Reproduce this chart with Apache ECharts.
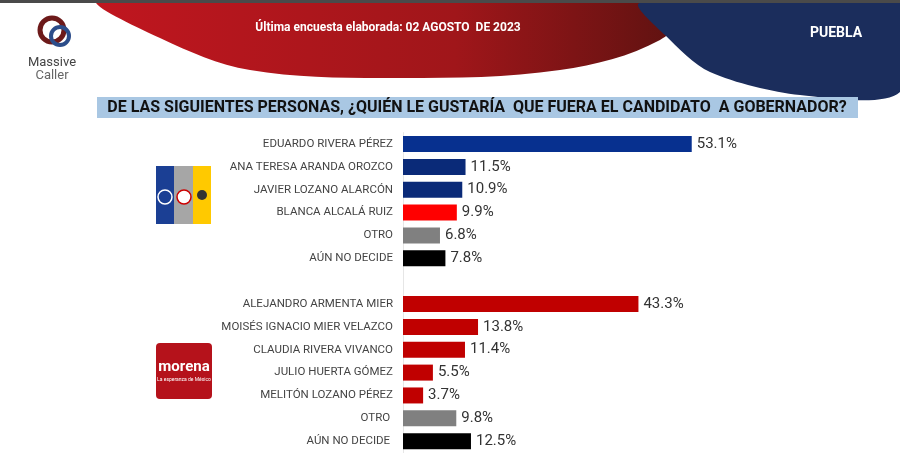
<!DOCTYPE html>
<html><head><meta charset="utf-8">
<script src="https://cdn.jsdelivr.net/npm/echarts@6/dist/echarts.min.js"></script>
<style>html,body{margin:0;background:#fff}#c{width:900px;height:460px}</style>
</head><body><div id="c"></div>
<script>
const categories = ["EDUARDO RIVERA PÉREZ","ANA TERESA ARANDA OROZCO","JAVIER LOZANO ALARCÓN","BLANCA ALCALÁ RUIZ","OTRO","AÚN NO DECIDE","",
  "ALEJANDRO ARMENTA MIER","MOISÉS IGNACIO MIER VELAZCO","CLAUDIA RIVERA VIVANCO","JULIO HUERTA GÓMEZ","MELITÓN LOZANO PÉREZ","OTRO ","AÚN NO DECIDE "];
const values = [53.1,11.5,10.9,9.9,6.8,7.8,null,43.3,13.8,11.4,5.5,3.7,9.8,12.5];
const colors = ["#07308f","#0a2a78","#0a2a78","#ff0000","#808080","#000000","#fff","#c00000","#c00000","#c00000","#c00000","#c00000","#808080","#000000"];

const chart = echarts.init(document.getElementById('c'));
chart.setOption({
  animation:false,
  grid:{left:403,right:62,top:132.6,bottom:7.4},
  xAxis:{type:'value',min:0,max:80,show:false},
  yAxis:{type:'category',data:categories,inverse:true,
    axisTick:{show:false},axisLine:{lineStyle:{color:'#e6e6e6'}},
    axisLabel:{color:'#444',fontFamily:'Roboto, sans-serif',fontSize:11.5,margin:10}},
  series:[{type:'bar',barWidth:16,
    data:values.map((v,i)=>({value:v,itemStyle:{color:colors[i]}})),
    label:{show:true,position:'right',color:'#333',fontSize:15,fontFamily:'Roboto, sans-serif',
      formatter:p=>p.value==null?'':p.value.toFixed(1)+'%'}}],
  graphic:[
    {type:'polygon',shape:{smooth:0.35,points:[[100,0],[690,0],[660,40],[560,70],[400,78],[250,70],[160,38]]},
      style:{fill:{type:'linear',x:0,y:0,x2:1,y2:0,colorStops:[{offset:0,color:'#c0161f'},{offset:0.6,color:'#a0161a'},{offset:1,color:'#5a1210'}]}}},
    {type:'polygon',shape:{smooth:0.3,points:[[640,3],[900,3],[900,92],[800,95],[710,72],[665,35]]},style:{fill:'#1b2d5c'}},
    {type:'rect',shape:{x:0,y:0,width:900,height:3},style:{fill:'#4a4a4a'}},
    {type:'text',style:{x:388,y:28,text:'Última encuesta elaborada: 02 AGOSTO  DE 2023',fill:'#fff',font:'bold 12px Roboto, sans-serif',textAlign:'center',textVerticalAlign:'middle'}},
    {type:'text',style:{x:836,y:33,text:'PUEBLA',fill:'#fff',font:'bold 14px Roboto, sans-serif',textAlign:'center',textVerticalAlign:'middle'}},
    {type:'circle',shape:{cx:52,cy:30,r:12},style:{fill:'none',stroke:'#6d1a1a',lineWidth:5}},
    {type:'circle',shape:{cx:60,cy:36,r:9},style:{fill:'none',stroke:'#2c4d8a',lineWidth:4}},
    {type:'text',style:{x:52,y:56,text:'Massive',fill:'#444',font:'13px Roboto, sans-serif',textAlign:'center'}},
    {type:'text',style:{x:52,y:69,text:'Caller',fill:'#666',font:'13px Roboto, sans-serif',textAlign:'center'}},
    {type:'rect',shape:{x:97,y:97,width:761,height:21},style:{fill:'#a9c7e3'}},
    {type:'text',style:{x:477,y:108,text:'DE LAS SIGUIENTES PERSONAS, ¿QUIÉN LE GUSTARÍA  QUE FUERA EL CANDIDATO  A GOBERNADOR?',fill:'#111',font:'bold 16px Roboto, sans-serif',textAlign:'center',textVerticalAlign:'middle'}},
    {type:'rect',shape:{x:156,y:166,width:18,height:58},style:{fill:'#1b3f94'}},
    {type:'rect',shape:{x:174,y:166,width:19,height:58},style:{fill:'#a6a6a6'}},
    {type:'rect',shape:{x:193,y:166,width:18,height:58},style:{fill:'#ffc900'}},
    {type:'circle',shape:{cx:165,cy:197,r:7},style:{fill:'#1b3f94',stroke:'#fff',lineWidth:1.5}},
    {type:'circle',shape:{cx:184,cy:197,r:7},style:{fill:'#fff',stroke:'#c00',lineWidth:1.5}},
    {type:'circle',shape:{cx:202,cy:195,r:5},style:{fill:'#333'}},
    {type:'rect',shape:{x:156,y:343,width:56,height:56,r:4},style:{fill:'#b5121b'}},
    {type:'text',style:{x:184,y:367,text:'morena',fill:'#fff',font:'bold 15px Roboto, sans-serif',textAlign:'center',textVerticalAlign:'middle'}},
    {type:'text',style:{x:184,y:380,text:'La esperanza de México',fill:'#fff',font:'5px Roboto, sans-serif',textAlign:'center',textVerticalAlign:'middle'}}
  ]
});
</script></body></html>
